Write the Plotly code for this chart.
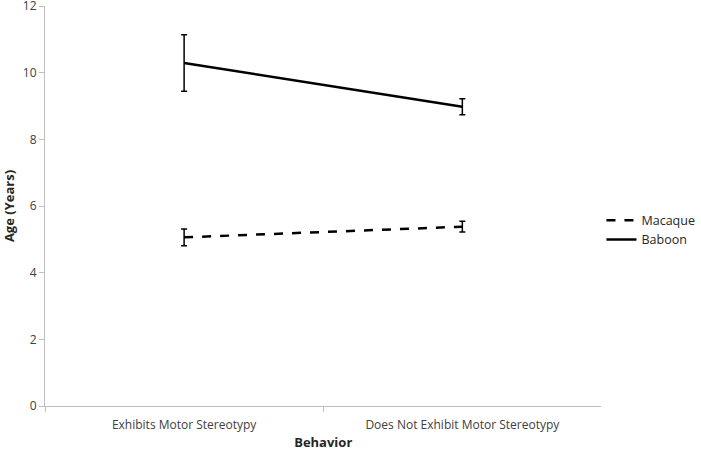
import plotly.graph_objects as go

categories = ["Exhibits Motor Stereotypy", "Does Not Exhibit Motor Stereotypy"]
macaque = [5.06, 5.38]
macaque_err = [0.25, 0.16]
baboon = [10.29, 8.98]
baboon_err = [0.85, 0.24]
y_ticks = [0, 2, 4, 6, 8, 10, 12]

fig = go.Figure()
fig.add_trace(go.Scatter(
    x=categories, y=macaque, name="Macaque", mode="lines",
    line=dict(color="black", width=2.5, dash="dash"),
    error_y=dict(type="data", array=macaque_err, visible=True, color="black", thickness=1.5, width=3),
))
fig.add_trace(go.Scatter(
    x=categories, y=baboon, name="Baboon", mode="lines",
    line=dict(color="black", width=2.5),
    error_y=dict(type="data", array=baboon_err, visible=True, color="black", thickness=1.5, width=3),
))

font_family = "Open Sans, Liberation Sans, sans-serif"
fig.update_layout(
    width=701, height=451,
    margin=dict(l=45, r=97, t=6, b=45),
    plot_bgcolor="white", paper_bgcolor="white",
    font=dict(family=font_family, size=12, color="#404040"),
    showlegend=True,
    legend=dict(xref="container", yref="container", x=0.858, y=0.49,
                xanchor="left", yanchor="middle",
                font=dict(size=12.5, color="#262626"), tracegroupgap=2,
                itemwidth=30, bgcolor="rgba(0,0,0,0)"),
    xaxis=dict(
        type="category", range=[-0.5, 1.5], automargin=False,
        showline=True, linecolor="#BFBFBF", linewidth=1,
        ticks="outside", tickson="boundaries", ticklen=5, tickcolor="#BFBFBF",
        ticklabelstandoff=8,
        showgrid=False, zeroline=False,
        title=dict(text="<b>Behavior</b>", font=dict(size=13, color="#262626"), standoff=18),
        tickfont=dict(size=12, color="#404040"),
    ),
    yaxis=dict(
        range=[0, 12.001], tickvals=y_ticks, automargin=False,
        ticklabeloverflow="allow",
        showline=True, linecolor="#BFBFBF", linewidth=1,
        ticks="outside", ticklen=5, tickcolor="#BFBFBF",
        showgrid=False, zeroline=False,
        title=dict(text="<b>Age (Years)</b>", font=dict(size=13, color="#262626"), standoff=6),
        tickfont=dict(size=12, color="#404040"),
    ),
)

fig.write_html("out.html", config={"displayModeBar": False},
               post_script="document.body.style.margin='0';document.body.style.padding='0';")
